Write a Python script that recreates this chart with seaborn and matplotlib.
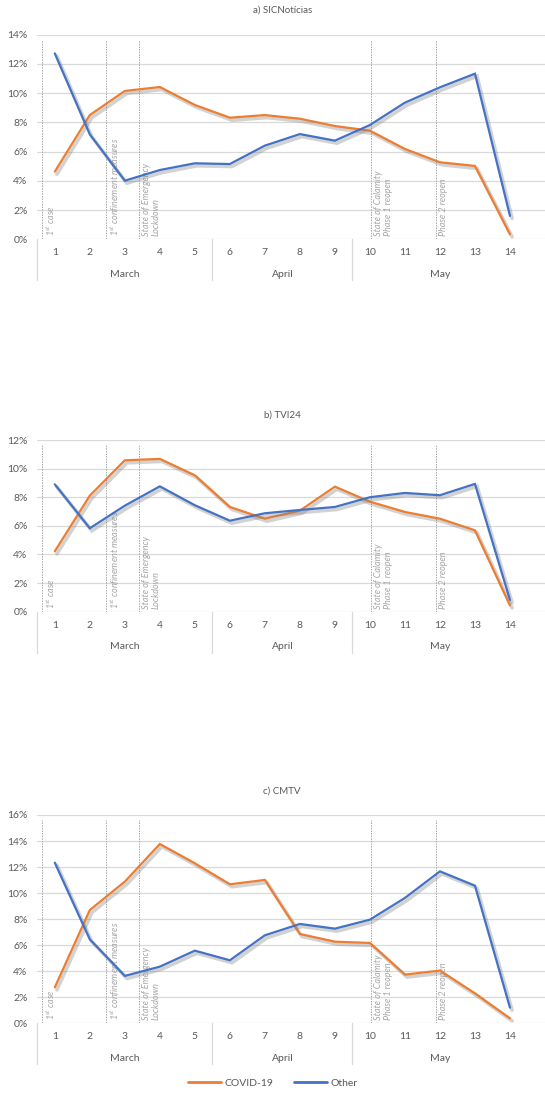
import matplotlib
matplotlib.use("Agg")
import matplotlib.pyplot as plt
import matplotlib.patheffects as pe
import matplotlib.transforms as mtransforms
import seaborn as sns
import pandas as pd
import numpy as np

# ---------------- data ----------------
days = list(range(1, 15))
months = ["March", "April", "May"]
month_centers = [3, 7.5, 12]
month_bounds = [0.5, 5.5, 9.5]

titles = ["a) SICNotícias", "b) TVI24", "c) CMTV"]

sic_covid = [4.63, 8.5, 10.15, 10.42, 9.19, 8.32, 8.5, 8.25, 7.75, 7.43, 6.18, 5.27, 5.02, 0.34]
sic_other = [12.72, 7.18, 4.01, 4.74, 5.2, 5.15, 6.41, 7.2, 6.75, 7.82, 9.35, 10.4, 11.33, 1.6]

tvi_covid = [4.22, 8.11, 10.58, 10.68, 9.53, 7.32, 6.5, 7.06, 8.74, 7.69, 6.97, 6.5, 5.69, 0.44]
tvi_other = [8.9, 5.83, 7.41, 8.76, 7.44, 6.36, 6.88, 7.11, 7.32, 8.0, 8.3, 8.14, 8.93, 0.82]

cm_covid = [2.76, 8.7, 10.88, 13.77, 12.29, 10.68, 11.01, 6.86, 6.27, 6.17, 3.74, 4.05, 2.3, 0.38]
cm_other = [12.34, 6.45, 3.64, 4.35, 5.58, 4.84, 6.76, 7.63, 7.27, 7.96, 9.63, 11.67, 10.57, 1.2]

series_names = ["COVID-19", "Other"]
panel_ymax = [14, 12, 16]

event_x = [0.62, 2.45, 3.4, 10.03, 11.88]
event_labels = [r"1$^{\mathit{st}}$ case",
                r"1$^{\mathit{st}}$ confinement measures",
                "State of Emergency\nLockdown",
                "State of Calamity\nPhase 1 reopen",
                "Phase 2 reopen"]

# ---------------- style ----------------
sns.set_style("white")
plt.rcParams["font.family"] = ["Lato", "DejaVu Sans"]
plt.rcParams["mathtext.fontset"] = "custom"
plt.rcParams["mathtext.it"] = "Lato:italic"
plt.rcParams["mathtext.rm"] = "Lato"

ORANGE = "#ED7D31"
BLUE = "#4472C4"
GRAY_TXT = "#595959"
GRID = "#D9D9D9"

W, H = 545, 1093
fig = plt.figure(figsize=(W / 100, H / 100), dpi=100)

# pixel geometry: (top_px, bottom_px, title_y_px)
panels_px = [(34.7, 239.3, 10), (440, 611.7, 415), (815, 1023.3, 791)]
left_px, right_px = 37.3, 545

data_sets = [(sic_covid, sic_other), (tvi_covid, tvi_other), (cm_covid, cm_other)]

for i, ((top, bot, ty), (cov, oth)) in enumerate(zip(panels_px, data_sets)):
    ax = fig.add_axes([left_px / W, 1 - bot / H, (right_px - left_px) / W, (bot - top) / H])
    hpx = bot - top
    df = pd.DataFrame({
        "day": days * 2,
        "value": cov + oth,
        "series": [series_names[0]] * 14 + [series_names[1]] * 14,
    })
    sns.lineplot(data=df, x="day", y="value", hue="series",
                 palette={"COVID-19": ORANGE, "Other": BLUE},
                 linewidth=1.6, ax=ax, legend=(i == 2), zorder=5)
    for ln in ax.lines:
        ln.set_path_effects([pe.SimpleLineShadow(offset=(1.5, -1.8), shadow_color="#7f7f7f",
                                                 alpha=0.35, linewidth=2.6),
                             pe.Normal()])
        ln.set_solid_joinstyle("miter")

    ymax = panel_ymax[i]
    ax.set_xlim(0.5, 15.0)
    ax.set_ylim(0, ymax)
    ax.set_yticks(np.arange(0, ymax + 0.1, 2))
    ax.set_yticklabels([f"{int(v)}%" for v in np.arange(0, ymax + 0.1, 2)])
    ax.set_xticks(days)
    ax.set_xticklabels([str(d) for d in days])
    ax.tick_params(axis="both", length=0, labelsize=7.5, labelcolor=GRAY_TXT)
    ax.tick_params(axis="y", pad=7)
    ax.tick_params(axis="x", pad=6.5)
    ax.set_xlabel("")
    ax.set_ylabel("")
    for s in ax.spines.values():
        s.set_visible(False)
    ax.yaxis.grid(True, color=GRID, linewidth=0.9)
    ax.xaxis.grid(False)
    ax.set_axisbelow(True)

    # month group separators and labels
    trans = mtransforms.blended_transform_factory(ax.transData, ax.transAxes)
    for b in month_bounds:
        ax.plot([b, b], [0, -41 / hpx], transform=trans, color=GRID, lw=0.9, clip_on=False)
    for mc, mn in zip(month_centers, months):
        ax.text(mc, -35 / hpx, mn, transform=trans, ha="center", va="center",
                fontsize=7.5, color=GRAY_TXT)

    # event lines & labels
    for ex, el in zip(event_x, event_labels):
        ax.axvline(ex, ymin=0, ymax=0.975, color="#A6A6A6", lw=0.7, ls=(0, (1.5, 1.2)), zorder=2)
        ax.text(ex + 0.08, 3 / hpx, el, transform=trans, rotation=90, ha="left", va="bottom",
                fontsize=6.5, style="italic", color="#A6A6A6", multialignment="left",
                linespacing=1.15, zorder=3)

    fig.text(0.5 * (left_px + 527) / W, 1 - ty / H, titles[i], ha="center", va="center",
             fontsize=7, color=GRAY_TXT)

    if i == 2:
        handles, labels = ax.get_legend_handles_labels()
        ax.get_legend().remove()
        leg = fig.legend(handles, labels, loc="center", bbox_to_anchor=(0.5, 1 - 1083 / H),
                         ncol=2, frameon=False, fontsize=7.5, handlelength=3.2,
                         columnspacing=2.0, handletextpad=0.3)
        for t in leg.get_texts():
            t.set_color(GRAY_TXT)
        for lh in leg.get_lines():
            lh.set_linewidth(2)
            lh.set_path_effects([])

fig.savefig("out.png", dpi=100)
